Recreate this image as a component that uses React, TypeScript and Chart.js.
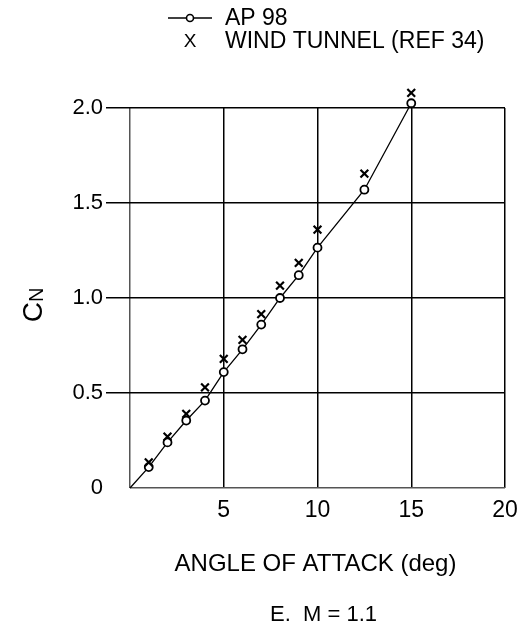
import React, { useEffect, useRef } from "react";
import { Chart, registerables } from "chart.js";

Chart.register(...registerables);

const FONT = "'Liberation Sans', Arial, Helvetica, sans-serif";

// AP 98 prediction
const angleAP = [0, 1, 2, 3, 4, 5, 6, 7, 8, 9, 10, 12.5, 15];
const cnAP = [0, 0.11, 0.24, 0.355, 0.46, 0.61, 0.73, 0.86, 1.0, 1.12, 1.265, 1.57, 2.025];

// Wind tunnel (REF 34)
const angleWT = [1, 2, 3, 4, 5, 6, 7, 8, 9, 10, 12.5, 15];
const cnWT = [0.135, 0.27, 0.39, 0.53, 0.68, 0.78, 0.915, 1.065, 1.185, 1.36, 1.655, 2.08];

const xTicks = [0, 5, 10, 15, 20];
const yTicks = [0, 0.5, 1.0, 1.5, 2.0];

const legendLabels = ["AP 98", "WIND TUNNEL (REF 34)"];
const xTitle = "ANGLE OF ATTACK (deg)";
const caption = "E.  M = 1.1";
const yTitleMain = "C";
const yTitleSub = "N";

// lets markers that sit just above the top gridline (C_N > 2.0) be drawn
const extendAreaPlugin = {
  id: "extendArea",
  beforeDatasetsDraw(chart: any) {
    chart.$savedArea = chart.chartArea;
    chart.chartArea = { ...chart.chartArea, top: chart.chartArea.top - 40 };
  },
  afterDatasetsDraw(chart: any) {
    if (chart.$savedArea) chart.chartArea = chart.$savedArea;
  },
};

const decorPlugin = {
  id: "decor",
  afterDraw(chart: any) {
    const ctx = chart.ctx;
    const area = chart.chartArea;
    ctx.save();
    ctx.fillStyle = "#000";
    ctx.strokeStyle = "#000";

    // Legend
    const lx = 190;
    const ly1 = 18;
    const ly2 = 41;
    ctx.lineWidth = 1.3;
    ctx.beginPath();
    ctx.moveTo(lx - 22, ly1);
    ctx.lineTo(lx + 22, ly1);
    ctx.stroke();
    ctx.beginPath();
    ctx.arc(lx, ly1, 3.5, 0, Math.PI * 2);
    ctx.fillStyle = "#fff";
    ctx.fill();
    ctx.lineWidth = 1.6;
    ctx.stroke();
    ctx.fillStyle = "#000";
    ctx.textBaseline = "middle";
    ctx.textAlign = "center";
    ctx.font = `19px ${FONT}`;
    ctx.fillText("X", lx, ly2 + 1);
    ctx.textAlign = "left";
    ctx.font = `23px ${FONT}`;
    ctx.fillText(legendLabels[0], 225, ly1 + 1);
    ctx.fillText(legendLabels[1], 225, ly2 + 1);

    // X title and caption
    const cx = (area.left + area.right) / 2;
    ctx.textAlign = "center";
    ctx.font = `24px ${FONT}`;
    ctx.fillText(xTitle, cx - 2, 564);
    ctx.font = `22px ${FONT}`;
    ctx.fillText(caption, cx + 6, 615);

    // Y title C_N (rotated)
    ctx.translate(32, 305);
    ctx.rotate(-Math.PI / 2);
    ctx.textBaseline = "alphabetic";
    ctx.textAlign = "left";
    ctx.font = `28px ${FONT}`;
    const wC = ctx.measureText(yTitleMain).width;
    ctx.font = `20px ${FONT}`;
    const wN = ctx.measureText(yTitleSub).width;
    const start = -(wC + wN) / 2;
    ctx.font = `28px ${FONT}`;
    ctx.fillText(yTitleMain, start, 10);
    ctx.font = `20px ${FONT}`;
    ctx.fillText(yTitleSub, start + wC, 11);
    ctx.restore();
  },
};

export default function App() {
  const ref = useRef<HTMLCanvasElement | null>(null);

  useEffect(() => {
    if (!ref.current) return;
    Chart.defaults.font.family = FONT;
    Chart.defaults.color = "#000";
    const chart = new Chart(ref.current, {
      type: "scatter",
      data: {
        datasets: [
          {
            label: legendLabels[0],
            data: angleAP.map((a, i) => ({ x: a, y: cnAP[i] })),
            showLine: true,
            borderColor: "#000",
            borderWidth: 1.3,
            backgroundColor: "#fff",
            pointBorderColor: "#000",
            pointBackgroundColor: "#fff",
            pointBorderWidth: 1.8,
            pointRadius: angleAP.map((a) => (a === 0 ? 0 : 4)),
            pointStyle: "circle",
            tension: 0,
            clip: false,
            order: 2,
          },
          {
            label: legendLabels[1],
            data: angleWT.map((a, i) => ({ x: a, y: cnWT[i] })),
            showLine: false,
            pointStyle: "crossRot",
            pointRadius: 5.5,
            pointBorderWidth: 2.2,
            pointBorderColor: "#000",
            borderColor: "#000",
            clip: false,
            order: 1,
          },
        ],
      },
      options: {
        responsive: false,
        animation: false,
        layout: { padding: { top: 108, right: 16, left: 0, bottom: 0 } },
        plugins: {
          legend: { display: false },
          tooltip: { enabled: false },
          title: { display: false },
        },
        scales: {
          x: {
            type: "linear",
            min: xTicks[0],
            max: xTicks[xTicks.length - 1],
            afterBuildTicks: (scale: any) => {
              scale.ticks = xTicks.map((v) => ({ value: v }));
            },
            afterFit: (scale: any) => {
              scale.height = 148;
              scale.paddingLeft = 0;
              scale.paddingRight = 0;
              scale.paddingTop = 0;
              scale.paddingBottom = 0;
            },
            ticks: {
              padding: 9,
              font: { size: 23 },
              color: "#000",
              maxRotation: 0,
              callback: (v: any) => (v === 0 ? "" : String(v)),
            },
            grid: {
              drawTicks: false,
              color: (c: any) => (c.tick && c.tick.value === 0 ? "#555" : "#000"),
              lineWidth: 1.5,
            },
            border: { display: false },
          },
          y: {
            type: "linear",
            min: yTicks[0],
            max: yTicks[yTicks.length - 1],
            afterBuildTicks: (scale: any) => {
              scale.ticks = yTicks.map((v) => ({ value: v }));
            },
            afterFit: (scale: any) => {
              scale.width = 130;
              scale.paddingLeft = 0;
              scale.paddingRight = 0;
              scale.paddingTop = 0;
              scale.paddingBottom = 0;
            },
            ticks: {
              padding: 3,
              font: { size: 22 },
              color: "#000",
              callback: (v: any) => (v === 0 ? "0" : Number(v).toFixed(1)),
            },
            grid: {
              drawTicks: true,
              tickLength: 24,
              tickWidth: 1.5,
              tickColor: (c: any) =>
                c.tick && c.tick.value === 0 ? "rgba(0,0,0,0)" : "#000",
              color: (c: any) => (c.tick && c.tick.value === 0 ? "#555" : "#000"),
              lineWidth: 1.5,
            },
            border: { display: false },
          },
        },
      },
      plugins: [extendAreaPlugin, decorPlugin],
    });
    return () => chart.destroy();
  }, []);

  return (
    <div style={{ position: "absolute", left: 0, top: 0, width: 521, height: 636, background: "#fff" }}>
      <canvas ref={ref} width={521} height={636} style={{ width: 521, height: 636, display: "block" }} />
    </div>
  );
}
